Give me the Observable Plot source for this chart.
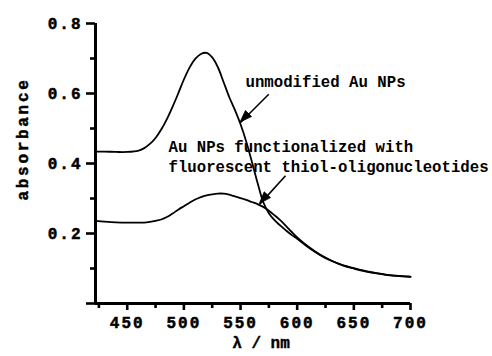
<!DOCTYPE html>
<html>
<head>
<meta charset="utf-8">
<script src="https://cdn.jsdelivr.net/npm/d3@7"></script>
<script src="https://cdn.jsdelivr.net/npm/@observablehq/plot@0.6"></script>
<style>
  html, body { margin: 0; padding: 0; background: #fff; }
</style>
</head>
<body>
<div id="chart"></div>
<script>
// Wavelengths (nm)
const wavelengths = [422,430,440,450,460,465,470,475,480,485,490,495,500,505,510,515,520,525,530,535,540,545,550,555,560,565,570,575,580,585,590,595,600,610,620,630,640,650,660,670,680,690,700];
// Absorbance, unmodified Au NPs
const unmodified = [0.434,0.434,0.433,0.433,0.437,0.444,0.456,0.473,0.497,0.527,0.562,0.600,0.640,0.674,0.699,0.713,0.716,0.703,0.675,0.633,0.590,0.553,0.512,0.463,0.405,0.345,0.290,0.258,0.238,0.223,0.209,0.196,0.185,0.160,0.139,0.122,0.109,0.100,0.092,0.086,0.081,0.078,0.076];
// Absorbance, Au NPs functionalized with fluorescent thiol-oligonucleotides
const functionalized = [0.236,0.234,0.232,0.231,0.231,0.231,0.233,0.236,0.240,0.247,0.257,0.268,0.278,0.288,0.297,0.304,0.309,0.312,0.314,0.314,0.311,0.306,0.301,0.296,0.290,0.284,0.276,0.265,0.252,0.238,0.222,0.205,0.189,0.162,0.140,0.123,0.110,0.101,0.093,0.087,0.082,0.079,0.077];

const xDomain = [422, 700];
const yDomain = [0, 0.8];
const xMajor = [450, 500, 550, 600, 650, 700];
const xMinor = [425, 475, 525, 575, 625, 675];
const yMajor = [0, 0.2, 0.4, 0.6, 0.8];
const yMinor = [0.1, 0.3, 0.5, 0.7];
const xTitle = "λ / nm";
const yTitle = "absorbance";

// Annotations (data coordinates)
const labels = [
  {text: "unmodified Au NPs", x: 554.4, y: 0.662},
  {text: "Au NPs functionalized with\nfluorescent thiol-oligonucleotides", x: 486.4, y: 0.476}
];
const arrows = [
  {x1: 574.9, y1: 0.598, x2: 550.0, y2: 0.517},
  {x1: 589.7, y1: 0.365, x2: 567.0, y2: 0.284}
];

const series = [];
wavelengths.forEach((w, i) => {
  series.push({name: "unmodified", x: w, y: unmodified[i]});
  series.push({name: "functionalized", x: w, y: functionalized[i]});
});

// Custom mark: filled arrowheads, positioned through the plot's own x/y scales
function arrowHeads(index, scales) {
  const g = d3.create("svg:g").attr("aria-label", "arrowheads");
  for (const a of arrows) {
    const x1 = scales.x(a.x1), y1 = scales.y(a.y1);
    const x2 = scales.x(a.x2), y2 = scales.y(a.y2);
    const L = Math.hypot(x2 - x1, y2 - y1);
    const ux = (x2 - x1) / L, uy = (y2 - y1) / L;
    const len = 12, half = 4.3;
    const bx = x2 - ux * len, by = y2 - uy * len;
    const p = [[x2, y2], [bx - uy * half, by + ux * half], [bx + uy * half, by - ux * half]];
    g.append("path")
      .attr("d", "M" + p.map(q => q.join(",")).join("L") + "Z")
      .attr("fill", "#000").attr("stroke", "#000").attr("stroke-width", 0.8).attr("stroke-linejoin", "miter");
  }
  return g.node();
}

const chart = Plot.plot({
  width: 492,
  height: 356,
  marginLeft: 95,
  marginRight: 82,
  marginTop: 23,
  marginBottom: 53,
  style: {fontFamily: "'Liberation Mono', monospace", fontSize: "16px", fontWeight: "bold", color: "#000", background: "#fff", overflow: "visible"},
  x: {domain: xDomain},
  y: {domain: yDomain},
  marks: [
    Plot.axisY(yMajor, {tickSize: 9, tickPadding: 4, strokeWidth: 2.6, tickFormat: d => d === 0 ? "" : d3.format(".1f")(d), label: null}),
    Plot.axisY(yMinor, {tickSize: 5, strokeWidth: 2.6, tickFormat: () => "", label: null}),
    Plot.axisX(xMajor, {tickSize: 7, tickPadding: 6, strokeWidth: 2.6, tickFormat: d3.format("d"), label: null}),
    Plot.axisX(xMinor, {tickSize: 5, strokeWidth: 2.6, tickFormat: () => "", label: null}),
    Plot.ruleY([yDomain[0]], {x1: xDomain[0], x2: xDomain[1], strokeWidth: 3}),
    Plot.ruleX([xDomain[0]], {y1: yDomain[0], y2: yDomain[1], strokeWidth: 3}),
    Plot.text([yTitle], {text: d => d, frameAnchor: "left", rotate: -90, dx: -72.5, dy: -24.5,
      textAnchor: "middle", lineAnchor: "middle", fontSize: 16, fontWeight: "bold"}),
    Plot.text([xTitle], {text: d => d, frameAnchor: "bottom", dx: 8, dy: 39,
      textAnchor: "middle", lineAnchor: "middle", fontSize: 16, fontWeight: "bold"}),
    Plot.line(series, {x: "x", y: "y", z: "name", stroke: "#000", strokeWidth: 1.8, curve: "catmull-rom"}),
    Plot.link(arrows, {x1: "x1", y1: "y1", x2: "x2", y2: "y2", stroke: "#000", strokeWidth: 1.6}),
    arrowHeads,
    Plot.text(labels, {x: "x", y: "y", text: "text", textAnchor: "start", lineAnchor: "top", lineHeight: 1.32,
      fontSize: 15.7, fontWeight: "bold", fill: "#000"})
  ]
});
document.getElementById("chart").appendChild(chart);

// Heavier, letter-spaced axis text as in the reference
const svg = d3.select(chart);
svg.selectAll("g[aria-label$='tick label'] text")
  .style("letter-spacing", "2px").style("stroke", "#000").style("stroke-width", "0.5px");
svg.selectAll("text").filter(function () { return this.textContent === yTitle; })
  .style("letter-spacing", "2.7px").style("stroke", "#000").style("stroke-width", "0.5px");
svg.selectAll("text").filter(function () { return this.textContent === xTitle; })
  .style("stroke", "#000").style("stroke-width", "0.4px");
</script>
</body>
</html>
